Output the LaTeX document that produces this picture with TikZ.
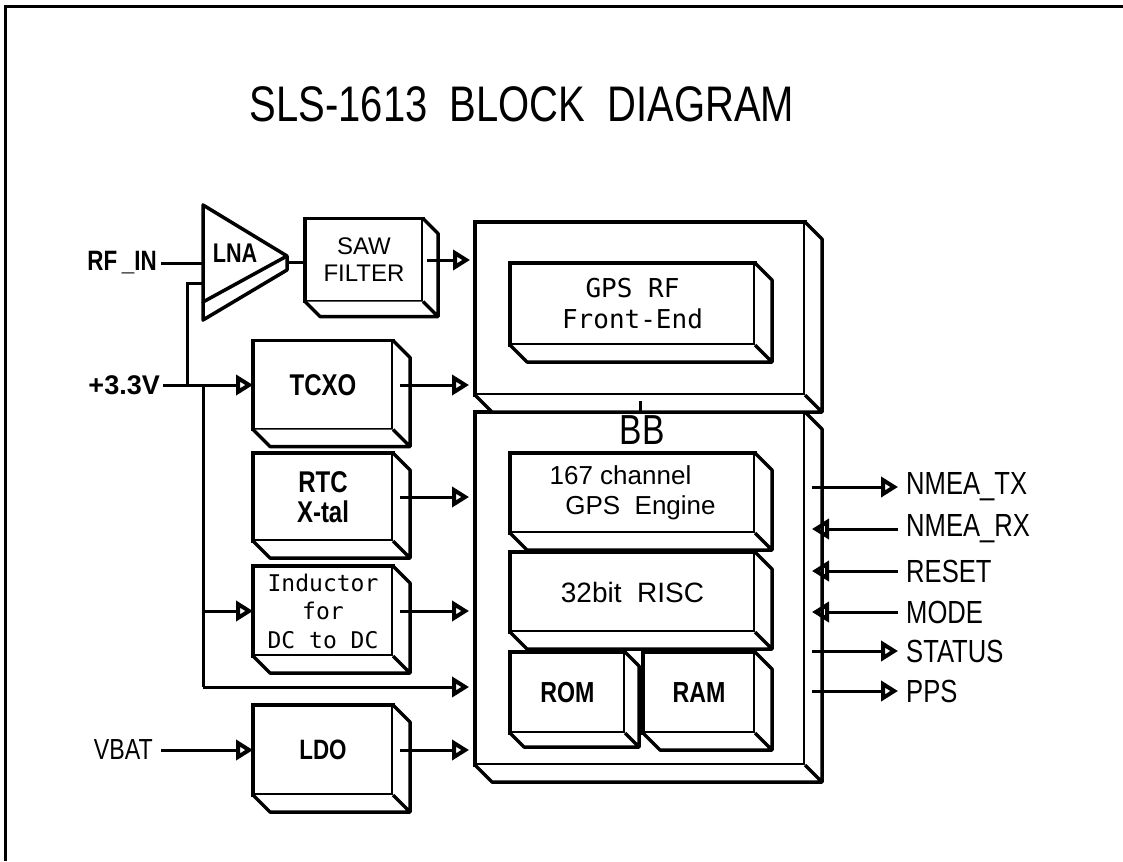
\documentclass[tikz,border=0pt]{standalone}
\usepackage{fontspec}
\setmainfont{Liberation Sans}
\newfontfamily\cadfont[FakeStretch=0.8]{Liberation Sans}
\newfontfamily\cadmono{DejaVu Sans Mono}
\usetikzlibrary{arrows.meta, calc}

\newcommand{\cadsize}[2]{\fontsize{#1}{#2}\selectfont}

\tikzset{
  wire/.style={line width=3pt},
  tip/.tip={Triangle[open, length=17pt, width=20pt, line width=4pt]},
  feed/.style={wire, -tip},
  sigout/.style={wire, -tip, shorten >=8pt},
  sigin/.style={wire, tip-, shorten >=8pt},
  block/.style={draw, line width=3.5pt, fill=white, outer sep=0pt, inner sep=0pt, align=center},
  boxsize/.style 2 args={minimum width=#1pt, minimum height=#2pt},
  face/.style={line width=3.5pt, line join=round},
  siglabel/.style={anchor=west, inner sep=0pt, font=\cadfont\cadsize{32}{32}},
  pinlabel/.style={anchor=east, inner sep=0pt},
}

% side and bottom faces of a block
\newcommand{\extrude}[2][17]{
  \fill[white] (#2.north east) -- ++(#1,#1) -- ($(#2.south east)+(#1,#1)$)
    -- ($(#2.south west)+(#1,#1)$) -- (#2.south west) -- (#2.south east) -- cycle;
  \draw[face] (#2.north east) -- ++(#1,#1) -- ($(#2.south east)+(#1,#1)$)
    -- ($(#2.south west)+(#1,#1)$) -- (#2.south west)
    (#2.south east) -- ++(#1,#1);
}

\begin{document}
\begin{tikzpicture}[x=1pt, y=-1pt]
  \useasboundingbox (0,0) rectangle (1123,861);

  % frame
  \draw[line width=3pt] (5,861) -- (5,7) -- (1123,7);

  % title
  \node[font=\cadfont\cadsize{50}{50}] (title) at (522,104) {SLS-1613\ \ BLOCK\ \ DIAGRAM};

  % --- baseband and RF outer blocks ---
  \node[block, boxsize={330}{353}] (bb) at (640,588.5) {};
  \extrude{bb}
  \node[block, boxsize={330}{173}] (rf) at (640,308.5) {};
  \extrude{rf}
  \draw[wire] ([yshift=-6pt]rf.south) -- (bb.north);
  \node[font=\cadfont\cadsize{42}{42}] (bblabel) at (642,430) {BB};

  % inner blocks
  \node[block, boxsize={245}{82}, font=\cadmono\cadsize{26}{31}] (rffe) at (632.5,304) {GPS RF\\Front-End};
  \extrude{rffe}
  \node[block, boxsize={245}{80}, font=\cadsize{26}{30}] (gpseng) at (632.5,493) {167 channel\hspace*{24pt}\\\hspace*{16pt}GPS\ \ Engine};
  \extrude{gpseng}
  \node[block, boxsize={245}{80}, font=\cadsize{28}{28}] (risc) at (632.5,592) {32bit\ \ RISC};
  \extrude{risc}
  \node[block, boxsize={115}{81}, font=\cadfont\bfseries\cadsize{29}{29}] (rom) at (567.5,692.5) {ROM};
  \extrude[14]{rom}
  \node[block, boxsize={112}{81}, font=\cadfont\bfseries\cadsize{29}{29}] (ram) at (699,692.5) {RAM};
  \extrude{ram}

  % --- left column ---
  \node[block, boxsize={118}{83}, font=\cadsize{24}{27}] (saw) at (364,260) {SAW\\FILTER};
  \extrude[15]{saw}
  \node[block, boxsize={140}{89}, font=\cadfont\bfseries\cadsize{30}{30}] (tcxo) at (323,385) {TCXO};
  \extrude{tcxo}
  \node[block, boxsize={140}{88}, font=\cadfont\bfseries\cadsize{30}{30}] (rtc) at (323,497) {RTC\\X-tal};
  \extrude{rtc}
  \node[block, boxsize={140}{90}, font=\cadmono\cadsize{23}{28.5}] (ind) at (323,611) {Inductor\\for\\DC to DC};
  \extrude{ind}
  \node[block, boxsize={140}{90}, font=\cadfont\bfseries\cadsize{28}{28}] (ldo) at (323,750) {LDO};
  \extrude{ldo}

  % LNA
  \draw[face, fill=white] (203,205) -- (203,302) -- (287,256) -- cycle;
  \draw[face] (203,302) -- (203,320) -- (287,270) -- (287,256);
  \node[font=\cadfont\bfseries\cadsize{27}{27}] (lna) at (235,253) {LNA};
  \coordinate (lnain) at (203,263);
  \coordinate (lnaout) at (287,262);
  \coordinate (lnavcc) at (203,283);

  % pins on the left
  \node[pinlabel, font=\cadfont\bfseries\cadsize{28}{28}] (rfin) at (157,263) {RF\,\_IN};
  \node[pinlabel, font=\bfseries\cadsize{27}{27}] (vcc) at (160,385) {+3.3V};
  \node[pinlabel, font=\cadfont\cadsize{29}{29}] (vbat) at (153,750) {VBAT};

  \draw[wire] ([xshift=4pt]rfin.east) -- (lnain);
  \draw[wire] (lnaout) -- (saw.west |- lnaout);
  \draw[feed, shorten >=5pt] ([xshift=4pt]saw.east) -- (rf.west |- saw.east);

  % supply rails
  \coordinate (tap1) at (187,385);
  \coordinate (tap2) at (203,385);
  \coordinate (tapend) at (203,687);
  \draw[wire] (lnavcc) -| (tap1);
  \draw[feed] ([xshift=3pt]vcc.east) -- (tcxo.west |- vcc.east);
  \draw[wire] (tap2) -- (tapend);
  \draw[feed] (tap2 |- ind.west) -- (ind.west);
  \draw[feed, shorten >=6pt] (tapend) -- (bb.west |- tapend);
  \draw[feed] ([xshift=8pt]vbat.east) -- (ldo.west);

  % block outputs
  \draw[feed, shorten >=6pt] ([xshift=7pt]tcxo.east) -- (rf.west |- tcxo.east);
  \draw[feed, shorten >=6pt] ([xshift=7pt]rtc.east) -- (bb.west |- rtc.east);
  \draw[feed, shorten >=6pt] ([xshift=7pt]ind.east) -- (bb.west |- ind.east);
  \draw[feed, shorten >=6pt] ([xshift=7pt]ldo.east) -- (bb.west |- ldo.east);

  % host interface
  \foreach \nm/\yy/\lab/\way in {tx/487/NMEA\_TX/sigout, rx/529/NMEA\_RX/sigin,
      rst/571/RESET/sigin, mode/612/MODE/sigin, stat/651/STATUS/sigout, pps/691/PPS/sigout}{
    \node[siglabel] (\nm) at (906,\yy) {\lab};
    \draw[\way] ([xshift=7pt]bb.east |- \nm.west) -- (\nm.west);
  }
\end{tikzpicture}
\end{document}
